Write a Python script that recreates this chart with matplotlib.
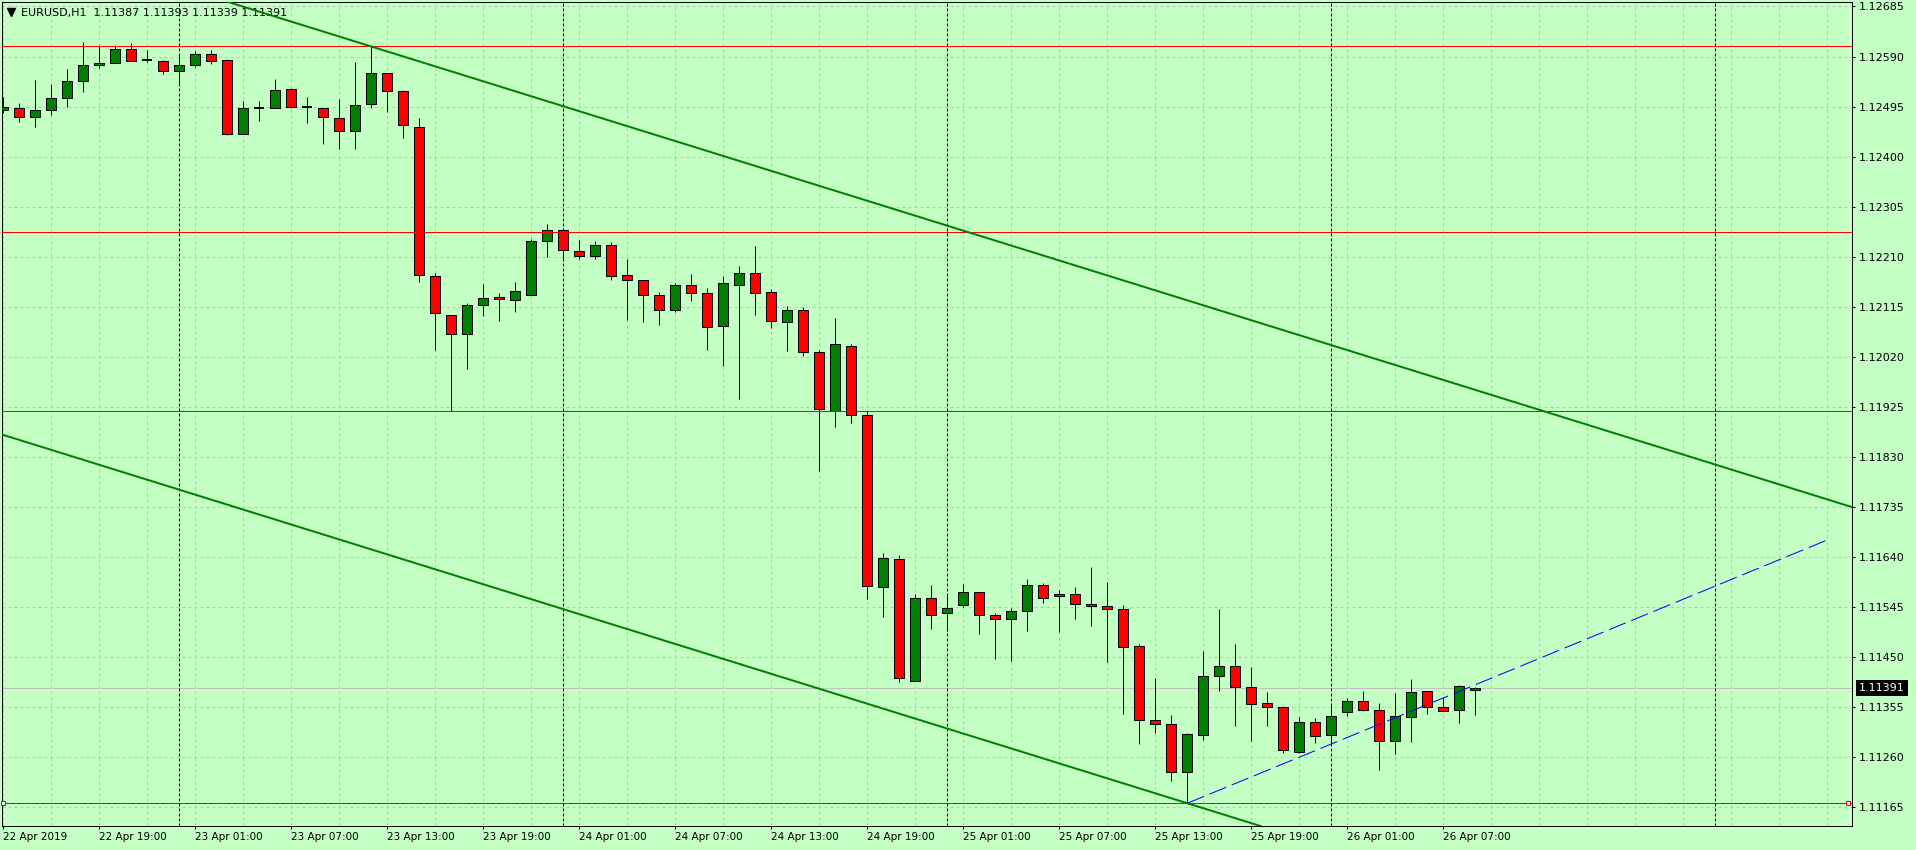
import matplotlib.pyplot as plt
import numpy as np

# EURUSD H1, one bar per hour from 22 Apr 2019 13:00 to 26 Apr 2019 09:00
symbol = 'EURUSD,H1'

opens = [1.12488, 1.12492, 1.12476, 1.12488, 1.12511, 1.12543, 1.12573, 1.12577, 1.12605, 1.12583,
         1.12581, 1.12562, 1.12573, 1.12594, 1.12583, 1.12442, 1.12492, 1.12492, 1.12528, 1.12495,
         1.12492, 1.12473, 1.12448, 1.12499, 1.12558, 1.12524, 1.12457, 1.12173, 1.12100, 1.12063,
         1.12118, 1.12133, 1.12127, 1.12138, 1.12239, 1.12260, 1.12220, 1.12211, 1.12233, 1.12175,
         1.12165, 1.12137, 1.12108, 1.12156, 1.12140, 1.12078, 1.12157, 1.12178, 1.12142, 1.12085,
         1.12108, 1.12028, 1.11916, 1.12040, 1.11909, 1.11582, 1.11635, 1.11405, 1.11561, 1.11533,
         1.11548, 1.11573, 1.11529, 1.11521, 1.11537, 1.11586, 1.11565, 1.11569, 1.11550, 1.11546,
         1.11540, 1.11470, 1.11330, 1.11322, 1.11231, 1.11301, 1.11413, 1.11432, 1.11392, 1.11362,
         1.11354, 1.11269, 1.11326, 1.11301, 1.11345, 1.11366, 1.11349, 1.11290, 1.11335, 1.11385,
         1.11354, 1.11349, 1.11387]
highs = [1.12514, 1.12501, 1.12545, 1.12538, 1.12566, 1.12618, 1.12612, 1.12612, 1.12615, 1.12602,
         1.12583, 1.12591, 1.12600, 1.12602, 1.12585, 1.12506, 1.12506, 1.12547, 1.12530, 1.12513,
         1.12492, 1.12509, 1.12580, 1.12609, 1.12558, 1.12526, 1.12473, 1.12178, 1.12100, 1.12121,
         1.12158, 1.12140, 1.12161, 1.12243, 1.12271, 1.12260, 1.12241, 1.12239, 1.12237, 1.12205,
         1.12165, 1.12142, 1.12159, 1.12177, 1.12150, 1.12173, 1.12192, 1.12230, 1.12148, 1.12116,
         1.12114, 1.12032, 1.12093, 1.12045, 1.11916, 1.11647, 1.11643, 1.11569, 1.11586, 1.11565,
         1.11588, 1.11573, 1.11533, 1.11542, 1.11597, 1.11590, 1.11576, 1.11582, 1.11620, 1.11592,
         1.11548, 1.11475, 1.11409, 1.11339, 1.11305, 1.11462, 1.11540, 1.11474, 1.11430, 1.11383,
         1.11356, 1.11335, 1.11333, 1.11360, 1.11371, 1.11386, 1.11362, 1.11381, 1.11407, 1.11385,
         1.11373, 1.11396, 1.11393]
lows = [1.12482, 1.12466, 1.12457, 1.12478, 1.12495, 1.12523, 1.12569, 1.12577, 1.12581, 1.12580,
        1.12557, 1.12535, 1.12571, 1.12576, 1.12440, 1.12442, 1.12468, 1.12492, 1.12493, 1.12464,
        1.12423, 1.12415, 1.12415, 1.12493, 1.12485, 1.12436, 1.12162, 1.12033, 1.11917, 1.11997,
        1.12098, 1.12088, 1.12105, 1.12138, 1.12210, 1.12208, 1.12206, 1.12206, 1.12165, 1.12090,
        1.12086, 1.12081, 1.12105, 1.12126, 1.12033, 1.12003, 1.11939, 1.12100, 1.12075, 1.12031,
        1.12022, 1.11803, 1.11887, 1.11895, 1.11559, 1.11526, 1.11402, 1.11405, 1.11502, 1.11503,
        1.11544, 1.11494, 1.11446, 1.11443, 1.11500, 1.11553, 1.11498, 1.11522, 1.11509, 1.11441,
        1.11342, 1.11285, 1.11306, 1.11214, 1.11172, 1.11292, 1.11386, 1.11318, 1.11291, 1.11318,
        1.11267, 1.11267, 1.11286, 1.11286, 1.11337, 1.11347, 1.11236, 1.11265, 1.11289, 1.11342,
        1.11347, 1.11325, 1.11339]
closes = [1.12494, 1.12476, 1.12488, 1.12511, 1.12543, 1.12573, 1.12578, 1.12604, 1.12581, 1.12583,
          1.12562, 1.12573, 1.12594, 1.12581, 1.12442, 1.12492, 1.12492, 1.12526, 1.12495, 1.12495,
          1.12475, 1.12448, 1.12497, 1.12558, 1.12524, 1.12459, 1.12175, 1.12102, 1.12064, 1.12118,
          1.12131, 1.12129, 1.12144, 1.12239, 1.12260, 1.12222, 1.12212, 1.12232, 1.12173, 1.12165,
          1.12137, 1.12108, 1.12156, 1.12140, 1.12076, 1.12159, 1.12178, 1.12140, 1.12087, 1.12108,
          1.12028, 1.11920, 1.12044, 1.11909, 1.11584, 1.11637, 1.11409, 1.11561, 1.11529, 1.11542,
          1.11573, 1.11529, 1.11521, 1.11537, 1.11586, 1.11561, 1.11569, 1.11550, 1.11546, 1.11540,
          1.11468, 1.11330, 1.11322, 1.11231, 1.11303, 1.11413, 1.11432, 1.11392, 1.11360, 1.11354,
          1.11274, 1.11326, 1.11299, 1.11337, 1.11366, 1.11349, 1.11290, 1.11337, 1.11383, 1.11354,
          1.11347, 1.11394, 1.11391]

# time scale: bar index of each label
time_tick_bars = [0, 6, 12, 18, 24, 30, 36, 42, 48, 54, 60, 66, 72, 78, 84, 90]
time_tick_labels = ['22 Apr 2019', '22 Apr 19:00', '23 Apr 01:00', '23 Apr 07:00', '23 Apr 13:00',
                    '23 Apr 19:00', '24 Apr 01:00', '24 Apr 07:00', '24 Apr 13:00', '24 Apr 19:00',
                    '25 Apr 01:00', '25 Apr 07:00', '25 Apr 13:00', '25 Apr 19:00', '26 Apr 01:00',
                    '26 Apr 07:00']
# first bar of each new day (period separators)
day_start_bars = [11, 35, 59, 83, 107]

price_ticks = [1.11165, 1.11260, 1.11355, 1.11450, 1.11545, 1.11640, 1.11735, 1.11830, 1.11925,
               1.12020, 1.12115, 1.12210, 1.12305, 1.12400, 1.12495, 1.12590, 1.12685]
price_tick_labels = ['1.11165', '1.11260', '1.11355', '1.11450', '1.11545', '1.11640', '1.11735',
                     '1.11830', '1.11925', '1.12020', '1.12115', '1.12210', '1.12305', '1.12400',
                     '1.12495', '1.12590', '1.12685']

# horizontal levels (the last one is the selected object)
level_lines = [1.12609, 1.12256, 1.11916, 1.11172]
level_anchor_bars = [0, 115.3]

# falling channel: upper line through two points, lower line parallel through the low
channel_upper = [(23, 1.12609), (74, 1.12127)]
channel_lower_point = (74, 1.11172)
# dashed rising trend line from the low
trend_line = [(74, 1.11172), (114, 1.11672)]

BG = '#C4FFC4'
GRID = '#C0C0C0'
BULL = '#008000'
BEAR = '#FF0000'
PX = 0.72  # one pixel in points at 100 dpi

plt.rcParams['font.family'] = ['DejaVu Sans']

fig = plt.figure(figsize=(19.16, 8.5), dpi=100, facecolor=BG)
ax = fig.add_axes([2 / 1916, 24 / 850, 1850 / 1916, 824 / 850], facecolor=BG)
ax.set_xlim(-0.08, 115.54)
ax.set_ylim(1.111288, 1.126935)

# grid: every 3 bars and at every price label
for bar in range(0, 117, 3):
    ax.axvline(bar, color=GRID, lw=PX, ls=(0, (3, 3)), zorder=1)
for price in price_ticks:
    ax.axhline(price, color=GRID, lw=PX, ls=(0, (3, 3)), zorder=1)

for bar in day_start_bars:
    ax.axvline(bar, color='black', lw=PX, ls=(0, (3, 2)), zorder=1.6)

# bid line
ax.axhline(closes[-1], color=GRID, lw=PX, zorder=1.5)

# candles
x = np.arange(len(opens))
o = np.array(opens)
h = np.array(highs)
l = np.array(lows)
c = np.array(closes)
up = c > o
down = c < o
flat = c == o

ax.vlines(x, l, h, color='black', lw=PX, zorder=2)
ax.bar(x[up], c[up] - o[up], bottom=o[up], width=0.62, color=BULL,
       edgecolor='black', linewidth=PX, zorder=3)
ax.bar(x[down], o[down] - c[down], bottom=c[down], width=0.62, color=BEAR,
       edgecolor='black', linewidth=PX, zorder=3)
ax.hlines(o[flat], x[flat] - 0.31, x[flat] + 0.31, color='black', lw=2 * PX, zorder=3)

# objects
for price in level_lines:
    ax.axhline(price, color=BEAR, lw=PX, zorder=4)
ax.plot(level_anchor_bars, [level_lines[-1]] * 2, ls='none', marker='s', ms=3,
        mfc='white', mec=BEAR, mew=PX, zorder=5, clip_on=False)

(x0, y0), (x1, y1) = channel_upper
slope = (y1 - y0) / (x1 - x0)
ax.axline((x0, y0), slope=slope, color=BULL, lw=2 * PX, zorder=4)
ax.axline(channel_lower_point, slope=slope, color=BULL, lw=2 * PX, zorder=4)

ax.plot([p[0] for p in trend_line], [p[1] for p in trend_line], color='#0000FF',
        lw=PX, ls=(0, (18, 6)), zorder=4)

# header in the top left corner
header = f'{symbol}  {opens[-1]:.5f} {highs[-1]:.5f} {lows[-1]:.5f} {closes[-1]:.5f}'
ax.text(19 / 1850, 1 - 10.5 / 824, header, transform=ax.transAxes, fontsize=8,
        ha='left', va='center', zorder=3.5)
ax.plot([9 / 1850], [1 - 10 / 824], marker='v', color='black', ms=5.5,
        transform=ax.transAxes, zorder=3.5)

# axes and scales
for spine in ax.spines.values():
    spine.set_color('black')
    spine.set_linewidth(PX)

ax.yaxis.tick_right()
ax.set_yticks(price_ticks, price_tick_labels)
ax.set_xticks(time_tick_bars, time_tick_labels)
ax.tick_params(axis='both', direction='out', length=3 * PX, width=PX, colors='black')
ax.tick_params(axis='x', labelsize=7.5, pad=2)
ax.tick_params(axis='y', labelsize=8, pad=2.5)
for label in ax.get_xticklabels():
    label.set_horizontalalignment('left')

# current bid label on the price scale
ax.annotate(f'{closes[-1]:.5f}', xy=(1, closes[-1]), xycoords=ax.get_yaxis_transform(),
            xytext=(7, 0), textcoords='offset pixels', fontsize=8, color='white',
            ha='left', va='center', annotation_clip=False,
            bbox=dict(boxstyle='square,pad=0.25', fc='black', ec='none'))

fig.savefig('out.png', dpi=100, facecolor=BG)
